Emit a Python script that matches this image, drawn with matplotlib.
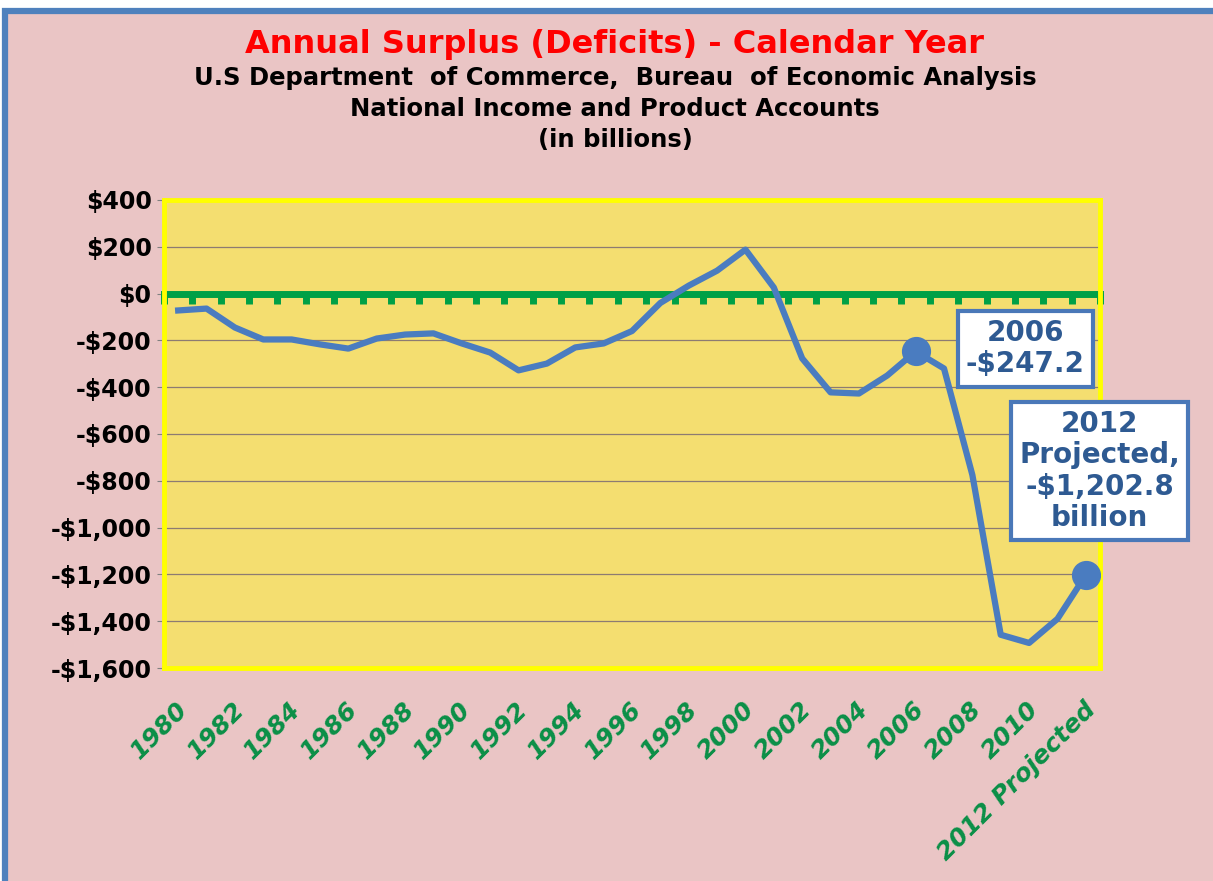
import numpy as np
import matplotlib.pyplot as plt
from matplotlib.patches import Rectangle
from matplotlib.ticker import FuncFormatter

# データ
categories = [str(y) for y in range(1980, 2012)] + ["2012 Projected"]
values = [-72, -64, -145, -196, -196, -217, -235, -192, -175, -170,
          -213, -252, -328, -299, -230, -213, -160, -40, 34, 98,
          188, 26, -277, -422, -427, -350, -247.2, -320, -775, -1458,
          -1493, -1390, -1202.8]
highlight = ["2006", "2012 Projected"]
callouts = ["2006\n-$247.2", "2012\nProjected,\n-$1,202.8\nbillion"]
callout_offsets = [(79, 2), (10, 75)]
y_ticks = list(range(-1600, 401, 200))

title = "Annual Surplus (Deficits) - Calendar Year"
subtitles = ["U.S Department  of Commerce,  Bureau  of Economic Analysis",
             "National Income and Product Accounts",
             "(in billions)"]

pink = "#EAC5C5"
plot_yellow = "#F4DE70"
line_blue = "#4A7CC0"
text_blue = "#2E5A92"
green = "#00A046"
label_green = "#0A8F47"

fig = plt.figure(figsize=(12.13, 8.81), dpi=100)
fig.patch.set_facecolor("white")
# 外枠
fig.add_artist(Rectangle((0.0041, -0.1), 1.2, 0.9875 + 0.1, transform=fig.transFigure,
                         facecolor=pink, edgecolor="#4F81BD", lw=4.5, zorder=-10))

fig.text(0.507, 1 - 45 / 881, title, ha="center", va="center", color="#FF0000",
         fontsize=23, fontweight="bold")
for i, s in enumerate(subtitles):
    fig.text(0.507, 1 - (78 + 31 * i) / 881, s, ha="center", va="center", color="black",
             fontsize=17.5, fontweight="bold")

ax = fig.add_axes([164 / 1213, 1 - 668 / 881, 936 / 1213, 468 / 881])
ax.set_facecolor(plot_yellow)
x = np.arange(len(categories))
ax.plot(x, values, color=line_blue, lw=4.5, solid_joinstyle="round", zorder=5)

hx = [categories.index(c) for c in highlight]
hy = [values[i] for i in hx]
ax.plot(hx, hy, "o", color=line_blue, ms=20, zorder=6)

ax.set_xlim(-0.5, len(categories) - 0.5)
ax.set_ylim(y_ticks[0], y_ticks[-1])
ax.set_yticks(y_ticks)
ax.yaxis.set_major_formatter(FuncFormatter(
    lambda v, p: ("-$" if v < 0 else "$") + f"{abs(int(v)):,}"))
ax.tick_params(axis="y", direction="out", length=5, color="#808080", labelsize=17, pad=4)
for t in ax.get_yticklabels():
    t.set_fontweight("bold")
ax.grid(axis="y", color="#8C7B72", lw=0.9)
ax.set_xticks([])
for sp in ax.spines.values():
    sp.set_color("#FFFF00")
    sp.set_linewidth(3.5)

# ゼロ線と目盛り
zero_pos = (0 - y_ticks[0]) / (y_ticks[-1] - y_ticks[0])
sec = ax.secondary_xaxis(zero_pos)
sec.xaxis.set_ticks_position("bottom")
sec.set_xticks(np.arange(-0.5, len(categories), 1.0))
sec.set_xticklabels([])
sec.tick_params(axis="x", direction="out", length=7, width=5, color=green)
for sp in sec.spines.values():
    sp.set_color(green)
    sp.set_linewidth(5)
sec.set_zorder(2)

# X軸ラベル
for i, c in enumerate(categories):
    if i % 2 == 0:
        ax.annotate(c, xy=(i, 0), xycoords=("data", "axes fraction"),
                    xytext=(-2, -21), textcoords="offset points",
                    rotation=45, rotation_mode="anchor", ha="right", va="top",
                    color=label_green, fontsize=18, fontweight="bold", style="italic")

# 注記
for i, txt, off in zip(hx, callouts, callout_offsets):
    ax.annotate(txt, xy=(i, values[i]), xytext=off, textcoords="offset points",
                ha="center", va="center", color=text_blue, fontsize=20,
                fontweight="bold", linespacing=1.15, annotation_clip=False, zorder=10,
                bbox=dict(boxstyle="square,pad=0.3", fc="white", ec="#4A78B8", lw=3))

fig.savefig("out.png", dpi=100)
